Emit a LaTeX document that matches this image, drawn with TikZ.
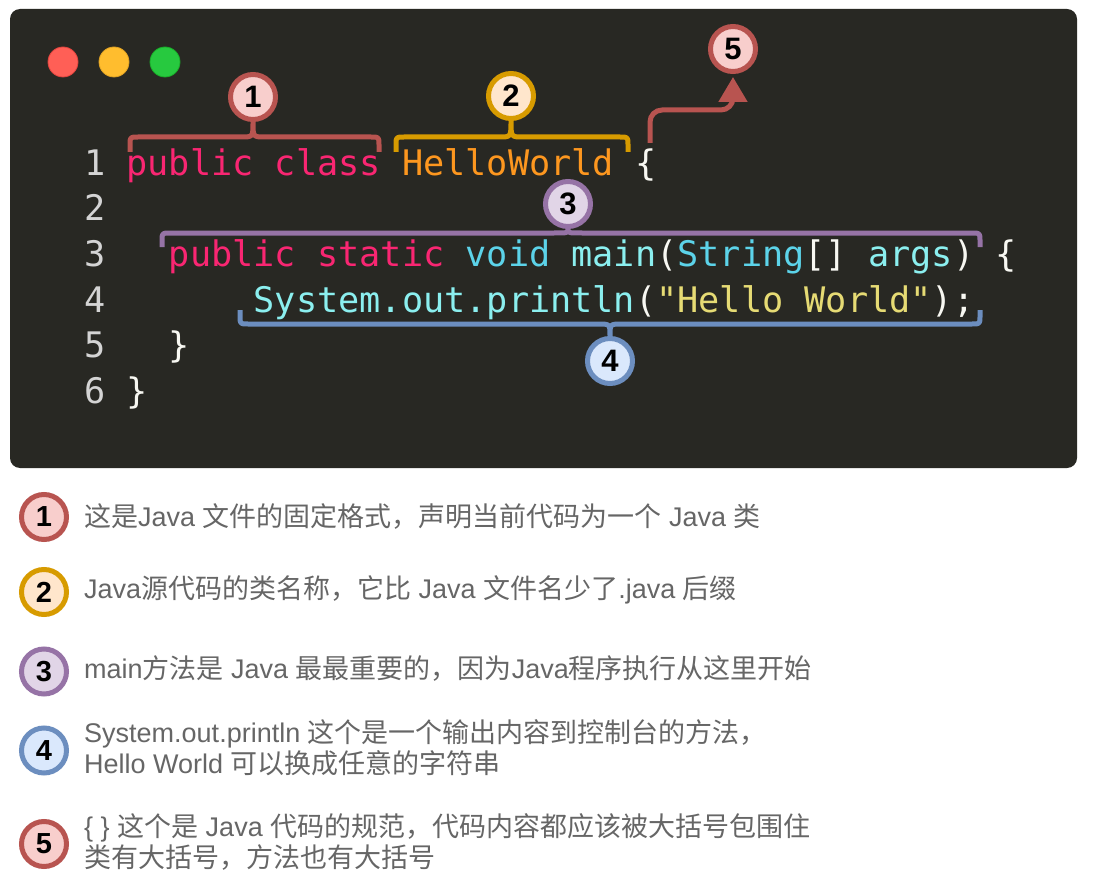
\documentclass[tikz,border=0pt]{standalone}
\usepackage{fontspec}
\setmainfont{Liberation Sans}
\newfontfamily\cjk{Noto Sans CJK SC}
\newfontfamily\codefont{DejaVu Sans Mono}[WordSpace={1,0,0}]
\usetikzlibrary{arrows.meta}
\definecolor{panel}{HTML}{282823}
\definecolor{lnum}{HTML}{D4D4D4}
\definecolor{kw}{HTML}{F92672}
\definecolor{cls}{HTML}{FD971F}
\definecolor{fg}{HTML}{F8F8F2}
\definecolor{typ}{HTML}{5CD3E9}
\definecolor{fn}{HTML}{8BEFEF}
\definecolor{str}{HTML}{E6DB74}
\definecolor{rA}{HTML}{B85450}\definecolor{rAf}{HTML}{F8CECC}
\definecolor{oA}{HTML}{D79B00}\definecolor{oAf}{HTML}{FFE6CC}
\definecolor{pA}{HTML}{9673A6}\definecolor{pAf}{HTML}{E1D5E7}
\definecolor{bA}{HTML}{6C8EBF}\definecolor{bAf}{HTML}{DAE8FC}
\definecolor{legtext}{HTML}{666666}
\tikzset{
  light/.style={circle, minimum size=30pt, inner sep=0pt},
  code/.style={anchor=base west, inner sep=0pt, text=fg,
    font=\codefont\fontsize{35.2}{40}\selectfont},
  badge/.style={circle, draw=#1, fill=#1f, line width=5pt, minimum size=45pt,
    inner sep=0pt, font=\bfseries\fontsize{31}{31}\selectfont, text=black},
  lbadge/.style={badge=#1, font=\bfseries\fontsize{29}{29}\selectfont},
  bracestyle/.style={draw=#1, line width=5pt, line cap=butt, line join=round},
  legend/.style={anchor=west, align=left, inner sep=0pt, text=legtext,
    font=\fontsize{27}{31}\selectfont},
}
\begin{document}
\begin{tikzpicture}[x=1pt,y=-1pt]
\useasboundingbox (0,0) rectangle (1104,888);
\fill[white] (0,0) rectangle (1104,888);
\fill[panel, rounded corners=10pt] (10,9) rectangle (1077,468);

% window buttons
\node[light, fill={rgb,255:red,255;green,95;blue,86}, draw={rgb,255:red,224;green,68;blue,62}, line width=0.8pt] (bred) at (63,62) {};
\node[light, fill={rgb,255:red,255;green,189;blue,46}, draw={rgb,255:red,222;green,161;blue,35}, line width=0.8pt] (byel) at (114,62) {};
\node[light, fill={rgb,255:red,39;green,201;blue,63}, draw={rgb,255:red,26;green,171;blue,41}, line width=0.8pt] (bgrn) at (165,62) {};

% code
\node[code] (l1) at (84,175.5) {\frenchspacing\textcolor{lnum}{1}~\textcolor{kw}{public~class}~\textcolor{cls}{HelloWorld}~\{};
\node[code] (l2) at (84,221) {\textcolor{lnum}{2}};
\node[code] (l3) at (84,266.5) {\frenchspacing\textcolor{lnum}{3}~~~\textcolor{kw}{public~static}~\textcolor{typ}{void}~\textcolor{fn}{main}(\textcolor{typ}{String}[]~\textcolor{fn}{args})~\{};
\node[code] (l4) at (84,312) {\frenchspacing\textcolor{lnum}{4}~~~~~~~\textcolor{fn}{System.out.println}(\textcolor{str}{"Hello~World"});};
\node[code] (l5) at (84,357.5) {\textcolor{lnum}{5}~~~\}};
\node[code] (l6) at (84,403) {\textcolor{lnum}{6}~\}};

% badges on code
\node[badge=rA] (c1) at (253,97) {1};
\node[badge=oA] (c2) at (511,96) {2};
\node[badge=pA] (c3) at (568,204) {3};
\node[badge=bA] (c4) at (610,361) {4};
\node[badge=rA] (c5) at (733,49) {5};

% braces
\draw[bracestyle=rA] (130,152) -- (130,145) .. controls (130,137) .. (138,137) -- (241,137)
  .. controls (253,137) .. (c1.south) .. controls (253,137) .. (265,137) -- (371,137)
  .. controls (379,137) .. (379,145) -- (379,152);
\draw[bracestyle=oA] (396,152) -- (396,145) .. controls (396,137) .. (404,137) -- (499,137)
  .. controls (511,137) .. (c2.south) .. controls (511,137) .. (523,137) -- (620,137)
  .. controls (628,137) .. (628,145) -- (628,152);
\draw[bracestyle=pA] (162,247) -- (162,241) .. controls (162,233) .. (170,233) -- (554,233)
  .. controls (568,233) .. (c3.south) .. controls (568,233) .. (582,233) -- (972,233)
  .. controls (980,233) .. (980,241) -- (980,247);
\draw[bracestyle=bA] (240,310) -- (240,316) .. controls (240,324) .. (248,324) -- (598,324)
  .. controls (610,324) .. (c4.north) .. controls (610,324) .. (622,324) -- (972,324)
  .. controls (980,324) .. (980,316) -- (980,310);

% arrow to 5
\coordinate (a5) at (650,143);
\draw[draw=rA, line width=5pt, rounded corners=12pt, shorten >=3pt,
  -{Triangle[length=25pt, width=28pt]}] (a5) -- (650,110) -- (733,110) -- (c5.south);

% legend
\node[lbadge=rA] (k1) at (44,517) {1};
\node[lbadge=oA] (k2) at (44,592) {2};
\node[lbadge=pA] (k3) at (44,671.5) {3};
\node[lbadge=bA] (k4) at (44,750.5) {4};
\node[lbadge=rA] (k5) at (44,844) {5};

\node[legend] (t1) at (84,517) {{\cjk 这是}Java {\cjk 文件的固定格式，声明当前代码为一个} Java {\cjk 类}};
\node[legend] (t2) at (84,590) {Java{\cjk 源代码的类名称，它比} Java {\cjk 文件名少了}.java {\cjk 后缀}};
\node[legend] (t3) at (84,669) {main{\cjk 方法是} Java {\cjk 最最重要的，因为}Java{\cjk 程序执行从这里开始}};
\node[legend] (t4) at (84,748) {System.out.println {\cjk 这个是一个输出内容到控制台的方法，}\\Hello World {\cjk 可以换成任意的字符串}};
\node[legend] (t5) at (84,841.5) {\{ \} {\cjk 这个是} Java {\cjk 代码的规范，代码内容都应该被大括号包围住}\\{\cjk 类有大括号，方法也有大括号}};
\end{tikzpicture}
\end{document}
